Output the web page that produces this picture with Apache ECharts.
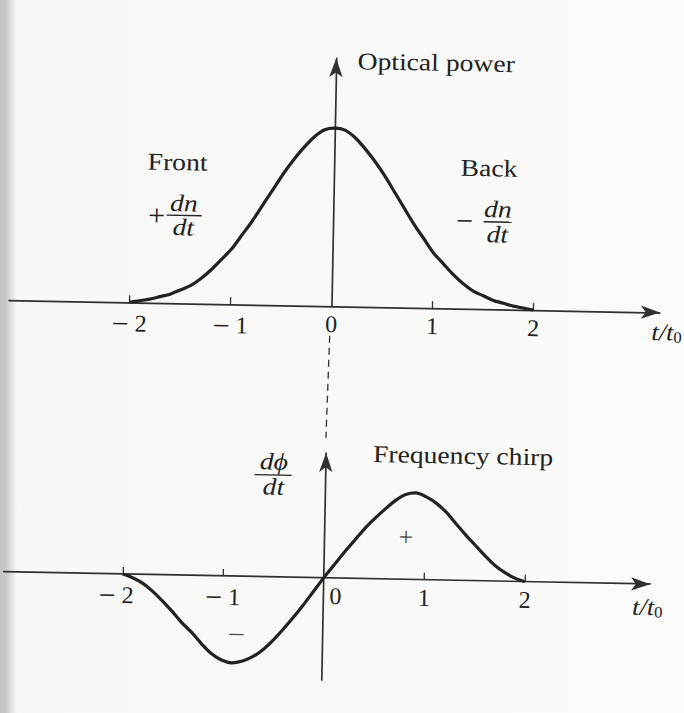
<!DOCTYPE html>
<html>
<head>
<meta charset="utf-8">
<script src="https://cdn.jsdelivr.net/npm/echarts@6/dist/echarts.min.js"></script>
<style>
  html, body {
    margin: 0; padding: 0; width: 684px; height: 713px; overflow: hidden;
    background: linear-gradient(to right, #c2c2c2 0px, #cbcbcb 7px, #e4e4e4 12px, #f7f7f6 17px, #fafaf9 100%);
  }
  #chart {
    width: 684px; height: 713px;
    transform: rotate(1.1deg); transform-origin: 342px 356.5px;
  }
</style>
</head>
<body>
<div id="chart"></div>
<script>
// Normalised time t/t0 sampled for both curves
const tSamples = [
  -2.0, -1.9, -1.8, -1.7, -1.6, -1.5, -1.4, -1.3, -1.2, -1.1,
  -1.0, -0.9, -0.8, -0.7, -0.6, -0.5, -0.4, -0.3, -0.2, -0.1,
   0.0,  0.1,  0.2,  0.3,  0.4,  0.5,  0.6,  0.7,  0.8,  0.9,
   1.0,  1.1,  1.2,  1.3,  1.4,  1.5,  1.6,  1.7,  1.8,  1.9, 2.0
];
// Optical power of the pulse (relative)
const opticalPower = [
  0.00, 0.01, 0.02, 0.035, 0.05, 0.075, 0.10, 0.14, 0.19, 0.25,
  0.31, 0.39, 0.47, 0.56, 0.65, 0.74, 0.82, 0.89, 0.95, 0.99,
  1.00, 0.99, 0.95, 0.89, 0.82, 0.74, 0.65, 0.56, 0.47, 0.39,
  0.31, 0.25, 0.19, 0.14, 0.10, 0.075, 0.05, 0.035, 0.02, 0.01, 0.00
];
// Frequency chirp d(phi)/dt (relative)
const frequencyChirp = [
   0.00, -0.04, -0.10, -0.19, -0.30, -0.42, -0.55, -0.66, -0.79, -0.90,
  -0.97, -1.00, -0.98, -0.93, -0.85, -0.74, -0.61, -0.47, -0.32, -0.16,
   0.00,  0.15,  0.30,  0.44,  0.58,  0.70,  0.81,  0.91,  0.98,  1.00,
   0.96,  0.89,  0.79,  0.66,  0.53,  0.41,  0.29,  0.18,  0.10,  0.04, 0.00
];
// Tick marks and tick labels along the time axes
const tickMarks = [-2, -1, 1, 2];
const tickLabels = [-2, -1, 0, 1, 2];

const INK = '#222222';
const AXIS = '#303030';
const SERIF = '"Liberation Serif", "Times New Roman", serif';

// time-axis extents of the two panels
const TOP_X = [-3.193, 3.252];
const LOW_X = [-3.181, 3.245];

function pairs(xs, ys) { return xs.map((x, i) => [x, ys[i]]); }

function fmtTick(v, lower) {
  if (v < 0) {
    const digit = lower && v === -2 ? '{m|' + Math.abs(v) + '}' : String(Math.abs(v));
    return '{n|\u2212} ' + digit;
  }
  if (v === 0 && lower) return '{z|0}';
  return String(v);
}

const tickLabelStyle = (lower) => ({
  show: true, customValues: tickLabels, margin: 6,
  fontFamily: SERIF, fontSize: 24, color: INK,
  formatter: v => fmtTick(v, lower),
  rich: {
    n: { fontFamily: SERIF, fontSize: 30, color: INK },
    z: { fontFamily: SERIF, fontSize: 24, color: INK, padding: [0, 0, 0, 24] },
    m: { fontFamily: SERIF, fontSize: 24, color: INK, padding: [0, 12, 0, 0] }
  }
});

function xAxisFor(gridIndex, ext, withLabels) {
  return {
    type: 'value', gridIndex, min: ext[0], max: ext[1],
    axisLine: { onZero: true, symbol: ['none', 'arrow'], symbolSize: [10, 19],
                lineStyle: { color: AXIS, width: 1.7 } },
    axisTick: { show: true, inside: true, length: 7, customValues: tickMarks,
                lineStyle: { color: AXIS, width: 1.3 } },
    axisLabel: withLabels ? tickLabelStyle(false) : { show: false },
    splitLine: { show: false }
  };
}

function yAxisFor(gridIndex, min, max, visible) {
  return {
    type: 'value', gridIndex, min, max,
    axisLine: { show: visible, onZero: true, symbol: ['none', 'arrow'], symbolSize: [10, 19],
                lineStyle: { color: AXIS, width: 1.7 } },
    axisTick: { show: false }, axisLabel: { show: false }, splitLine: { show: false }
  };
}

function label(x, y, text, opt) {
  opt = opt || {};
  return {
    type: 'text', x, y, scaleX: opt.sx || 1.15, silent: true,
    style: {
      text, fill: opt.color || INK,
      font: (opt.italic ? 'italic ' : '') + (opt.size || 24) + 'px ' + SERIF,
      textAlign: opt.align || 'left', textVerticalAlign: 'middle'
    }
  };
}

function bar(x1, x2, y) {
  return { type: 'line', silent: true, shape: { x1, y1: y, x2, y2: y },
           style: { stroke: INK, lineWidth: 1.4 } };
}

const chart = echarts.init(document.getElementById('chart'), null, { renderer: 'svg' });

chart.setOption({
  animation: false,
  backgroundColor: 'transparent',
  grid: [
    { left: 8, top: 58.4, width: 651, height: 248 },
    { left: 8, top: 453.3, width: 646.4, height: 227.1 },
    // label strip whose lower edge sits on the chirp panel's time axis
    { left: 8, top: 453.3, width: 646.4, height: 124.9 }
  ],
  xAxis: [
    xAxisFor(0, TOP_X, true),
    xAxisFor(1, LOW_X, false),
    { type: 'value', gridIndex: 2, min: LOW_X[0], max: LOW_X[1],
      axisLine: { show: false }, axisTick: { show: false }, splitLine: { show: false },
      axisLabel: tickLabelStyle(true) }
  ],
  yAxis: [
    yAxisFor(0, 0, 1.393, true),
    yAxisFor(1, -1.1788, 1.4406, true),
    yAxisFor(2, 0, 1, false)
  ],
  series: [
    { type: 'line', xAxisIndex: 0, yAxisIndex: 0, data: pairs(tSamples, opticalPower),
      smooth: 0.3, showSymbol: false, lineStyle: { color: INK, width: 3.2 }, z: 3 },
    { type: 'line', xAxisIndex: 1, yAxisIndex: 1, data: pairs(tSamples, frequencyChirp),
      smooth: 0.3, showSymbol: false, lineStyle: { color: INK, width: 3.2 }, z: 3 }
  ],
  graphic: [
    // dashed guide joining the two vertical axes
    { type: 'line', silent: true, shape: { x1: 329.3, y1: 336, x2: 327.5, y2: 438 },
      style: { stroke: AXIS, lineWidth: 1.3, lineDash: [7, 5] } },

    label(352, 61, 'Optical power'),
    label(144, 165.5, 'Front'),
    label(457, 165.5, 'Back'),

    label(154, 218.5, '+', { align: 'center', sx: 1, size: 30 }),
    label(181, 206.5, 'dn', { italic: true, align: 'center' }),
    bar(164, 199, 218.5),
    label(181, 230.5, 'dt', { italic: true, align: 'center' }),

    label(462, 218, '\u2212', { align: 'center', sx: 1, size: 30 }),
    label(495, 206.5, 'dn', { italic: true, align: 'center' }),
    bar(481, 509, 219),
    label(495, 231.5, 'dt', { italic: true, align: 'center' }),

    label(276, 463, 'd\u03d5', { italic: true, align: 'center' }),
    bar(257, 294, 476.3),
    label(276, 488, 'dt', { italic: true, align: 'center' }),

    label(375, 453.5, 'Frequency chirp'),
    label(409.5, 536, '+', { align: 'center', sx: 1, size: 26, color: '#4a4a4a' }),
    label(241.5, 636, '\u2212', { align: 'center', sx: 1.2, size: 26, color: '#4a4a4a' }),

    label(651, 326, 't/t', { italic: true, sx: 1.1 }),
    label(673, 331, '0', { size: 16, sx: 1.05 }),
    label(637, 601, 't/t', { italic: true, sx: 1.1 }),
    label(659, 606, '0', { size: 16, sx: 1.05 })
  ]
});
</script>
</body>
</html>
